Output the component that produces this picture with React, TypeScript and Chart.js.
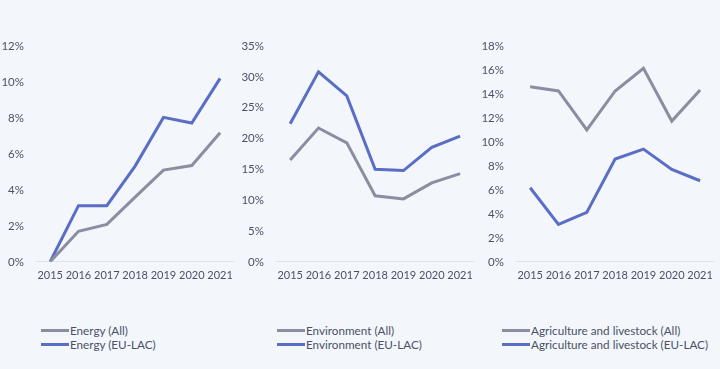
import React, { useEffect, useRef } from "react";
import { Chart, registerables } from "chart.js";

Chart.register(...registerables);

const years = ["2015", "2016", "2017", "2018", "2019", "2020", "2021"];

const energyAll = [0, 1.7, 2.08, 3.6, 5.1, 5.35, 7.18];
const energyEULAC = [0, 3.12, 3.12, 5.32, 8.03, 7.72, 10.2];

const environmentAll = [16.5, 21.7, 19.3, 10.7, 10.2, 12.8, 14.3];
const environmentEULAC = [22.4, 30.8, 26.9, 15.0, 14.8, 18.55, 20.4];

const agricultureAll = [14.6, 14.25, 11.0, 14.25, 16.14, 11.74, 14.33];
const agricultureEULAC = [6.18, 3.12, 4.12, 8.57, 9.4, 7.7, 6.76];

const panelMax = [12, 35, 18];
const panelStep = [2, 5, 2];
const panelNames = ["Energy", "Environment", "Agriculture and livestock"];

const GRAY = "#8c8da0";
const BLUE = "#5b6ec6";
const TEXT = "#4b5068";
const BG = "#f3f6fb";

const panels = [
  { all: energyAll, eu: energyEULAC },
  { all: environmentAll, eu: environmentEULAC },
  { all: agricultureAll, eu: agricultureEULAC },
];

function Panel({ idx }: { idx: number }) {
  const ref = useRef<HTMLCanvasElement | null>(null);
  useEffect(() => {
    if (!ref.current) return;
    const p = panels[idx];
    const chart = new Chart(ref.current, {
      type: "line",
      data: {
        labels: years,
        datasets: [
          {
            label: panelNames[idx] + " (All)",
            data: p.all,
            borderColor: GRAY,
            backgroundColor: GRAY,
            borderWidth: 3,
            pointRadius: 0,
            tension: 0,
          },
          {
            label: panelNames[idx] + " (EU-LAC)",
            data: p.eu,
            borderColor: BLUE,
            backgroundColor: BLUE,
            borderWidth: 3,
            pointRadius: 0,
            tension: 0,
          },
        ],
      },
      options: {
        animation: false,
        responsive: false,
        maintainAspectRatio: false,
        layout: { padding: { top: 46, right: 2, bottom: 3, left: 0 } },
        plugins: { legend: { display: false }, tooltip: { enabled: false } },
        scales: {
          x: {
            offset: true,
            grid: { display: false, drawTicks: false },
            border: { display: true, color: "#dde3ec", width: 1 },
            ticks: {
              color: TEXT,
              font: { family: "Lato", size: 11 },
              padding: 7,
              maxRotation: 0,
              autoSkip: false,
            },
          },
          y: {
            min: 0,
            max: panelMax[idx],
            grid: { display: false, drawTicks: false },
            border: { display: false },
            afterFit: (s: any) => {
              s.width = 36;
            },
            ticks: {
              stepSize: panelStep[idx],
              color: TEXT,
              font: { family: "Lato", size: 11.5 },
              padding: 12,
              callback: (v: any) => v + "%",
            },
          },
        },
      },
    });
    return () => chart.destroy();
  }, [idx]);
  return (
    <canvas
      ref={ref}
      width={240}
      height={292}
      style={{ position: "absolute", left: idx * 240, top: 0, width: 240, height: 292 }}
    />
  );
}

const legendLeft = [41, 277, 502];

function Legend({ idx }: { idx: number }) {
  const item = (color: string, text: string, top: number) => (
    <div
      style={{
        position: "absolute",
        left: legendLeft[idx],
        top,
        height: 14,
        display: "flex",
        alignItems: "center",
        whiteSpace: "nowrap",
      }}
    >
      <span style={{ display: "inline-block", width: 28, height: 3, background: color, marginRight: 1 }} />
      <span style={{ fontFamily: "Lato", fontSize: 11.7, color: TEXT, lineHeight: "14px" }}>{text}</span>
    </div>
  );
  return (
    <>
      {item(GRAY, panelNames[idx] + " (All)", 323)}
      {item(BLUE, panelNames[idx] + " (EU-LAC)", 337)}
    </>
  );
}

export default function App() {
  return (
    <div
      style={{
        position: "fixed",
        left: 0,
        top: 0,
        width: 720,
        height: 369,
        background: BG,
        overflow: "hidden",
      }}
    >
      {[0, 1, 2].map((i) => (
        <Panel key={"p" + i} idx={i} />
      ))}
      {[0, 1, 2].map((i) => (
        <Legend key={"l" + i} idx={i} />
      ))}
    </div>
  );
}
